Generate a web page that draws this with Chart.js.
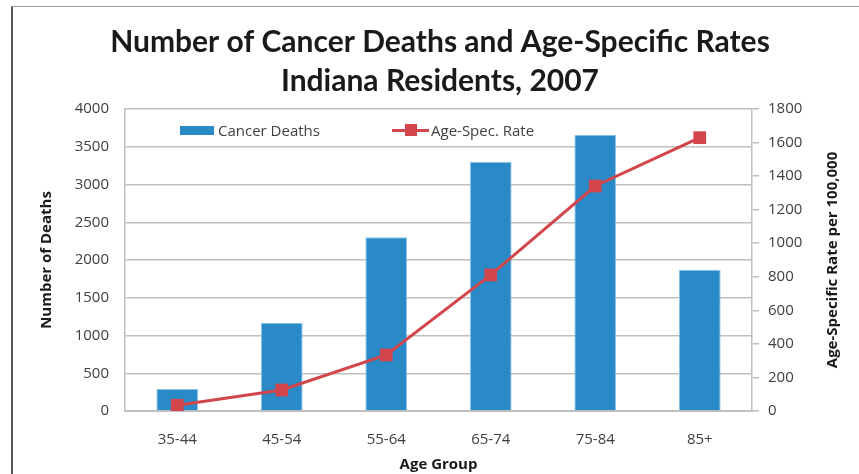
<!DOCTYPE html>
<html>
<head>
<meta charset="utf-8">
<script src="https://cdn.jsdelivr.net/npm/chart.js@4/dist/chart.umd.min.js"></script>
<style>
    html, body { margin: 0; padding: 0; background: #fff; }
    #wrap { position: relative; width: 859px; height: 474px; overflow: hidden; }
    #grafico { position: absolute; left: 0; top: 0; }
    #bordeIzq { position: absolute; left: 11px; top: 6px; width: 2px; height: 470px; background: #555; }
    #bordeSup { position: absolute; left: 11px; top: 6px; width: 850px; height: 1px; background: #9a9a9a; }
    #leyenda { position: absolute; left: 180px; top: 120px; font: 15px 'Open Sans', sans-serif; color: #404040; }
    .item { position: absolute; top: 0; white-space: nowrap; line-height: 20px; }
    .cajaBarra { display: inline-block; width: 34px; height: 9px; background: #2A8AC8; vertical-align: middle; margin-right: 4px; position: relative; top: -1px; }
    .lineaSerie { display: inline-block; width: 37px; height: 3px; background: #D2454A; vertical-align: middle; margin-right: 2px; position: relative; top: -1px; }
    .lineaSerie::after { content: ''; position: absolute; left: 13px; top: -5px; width: 12px; height: 12px; background: #D2454A; }
</style>
</head>
<body>
<div id="wrap">
    <canvas id="grafico" width="859" height="474"></canvas>
    <div id="bordeIzq"></div>
    <div id="bordeSup"></div>
    <div id="leyenda"></div>
</div>
<script>
const ageGroups = ['35-44', '45-54', '55-64', '65-74', '75-84', '85+'];
const cancerDeaths = [290, 1170, 2300, 3300, 3660, 1870];
const ageSpecRate = [34, 125, 334, 811, 1341, 1629];

const seriesLabels = ['Cancer Deaths', 'Age-Spec. Rate'];
const titleLines = ['Number of Cancer Deaths and Age-Specific Rates', 'Indiana Residents, 2007'];
const tituloEjeDer = 'Age-Specific Rate per 100,000';

const colorBarra = '#2A8AC8';
const colorLinea = '#D2454A';
const colorGrid = '#BFBFBF';
const colorTexto = '#404040';
const fuenteEje = { family: 'Open Sans', size: 15, weight: 'bold' };

// Leyenda dentro del área del gráfico (HTML)
const leyenda = document.getElementById('leyenda');
leyenda.innerHTML =
    `<span class="item" style="left:0px"><span class="cajaBarra"></span>${seriesLabels[0]}</span>` +
    `<span class="item" style="left:212px"><span class="lineaSerie"></span>${seriesLabels[1]}</span>`;

// Título del eje derecho, leído de abajo hacia arriba como en el original
const tituloDerecho = {
    id: 'tituloDerecho',
    afterDraw(chart) {
        const c = chart.ctx;
        const area = chart.chartArea;
        c.save();
        c.translate(833, (area.top + area.bottom) / 2);
        c.rotate(-Math.PI / 2);
        c.font = `bold ${fuenteEje.size}px '${fuenteEje.family}'`;
        c.fillStyle = '#1a1a1a';
        c.textAlign = 'center';
        c.textBaseline = 'middle';
        c.fillText(tituloEjeDer, 0, 0);
        c.restore();
    }
};

const sinSeparador = value => String(value);

const ctx = document.getElementById('grafico').getContext('2d');
const grafico = new Chart(ctx, {
    type: 'bar',
    data: {
        labels: ageGroups,
        datasets: [
            {
                type: 'line',
                label: seriesLabels[1],
                data: ageSpecRate,
                yAxisID: 'y1',
                borderColor: colorLinea,
                backgroundColor: colorLinea,
                borderWidth: 3,
                pointStyle: 'rect',
                pointRadius: 9,
                pointBorderWidth: 0,
                tension: 0,
                order: 0
            },
            {
                type: 'bar',
                label: seriesLabels[0],
                data: cancerDeaths,
                yAxisID: 'y',
                backgroundColor: colorBarra,
                borderColor: '#8CC6EA',
                borderWidth: 1,
                categoryPercentage: 1,
                barPercentage: 0.4,
                order: 1
            }
        ]
    },
    options: {
        responsive: false,
        animation: false,
        layout: { padding: { left: 38, right: 17, top: 0, bottom: 0 } },
        plugins: {
            legend: { display: false },
            tooltip: { enabled: false },
            title: {
                display: true,
                text: titleLines,
                color: '#1a1a1a',
                font: { family: 'Lato', size: 30, weight: 'bold', lineHeight: 1.3 },
                padding: { top: 23, bottom: 8 }
            }
        },
        scales: {
            x: {
                grid: { display: false, drawTicks: false },
                border: { color: colorGrid, width: 2 },
                ticks: { color: colorTexto, font: { family: 'Open Sans', size: 15 }, padding: 20 },
                title: { display: true, text: 'Age Group', color: '#1a1a1a', font: fuenteEje, padding: 0 },
                afterFit: function (scale) { scale.height = 63; }
            },
            y: {
                position: 'left',
                min: 0, max: 4000,
                ticks: { stepSize: 500, color: colorTexto, font: { family: 'Open Sans', size: 15 }, padding: 16, callback: sinSeparador },
                grid: { color: colorGrid, lineWidth: 1.5, drawTicks: false },
                border: { color: colorGrid, width: 1.5 },
                title: { display: true, text: 'Number of Deaths', color: '#1a1a1a', font: fuenteEje, padding: 0 },
                afterFit: function (scale) { scale.width = 87; }
            },
            y1: {
                position: 'right',
                min: 0, max: 1800,
                ticks: { stepSize: 200, color: colorTexto, font: { family: 'Open Sans', size: 15 }, padding: 9, callback: sinSeparador },
                grid: { drawOnChartArea: false, color: colorGrid, lineWidth: 1.5, tickLength: 7 },
                border: { color: colorGrid, width: 1.5 },
                title: { display: false },
                afterFit: function (scale) { scale.width = 90; }
            }
        }
    },
    plugins: [tituloDerecho]
});
</script>
</body>
</html>
